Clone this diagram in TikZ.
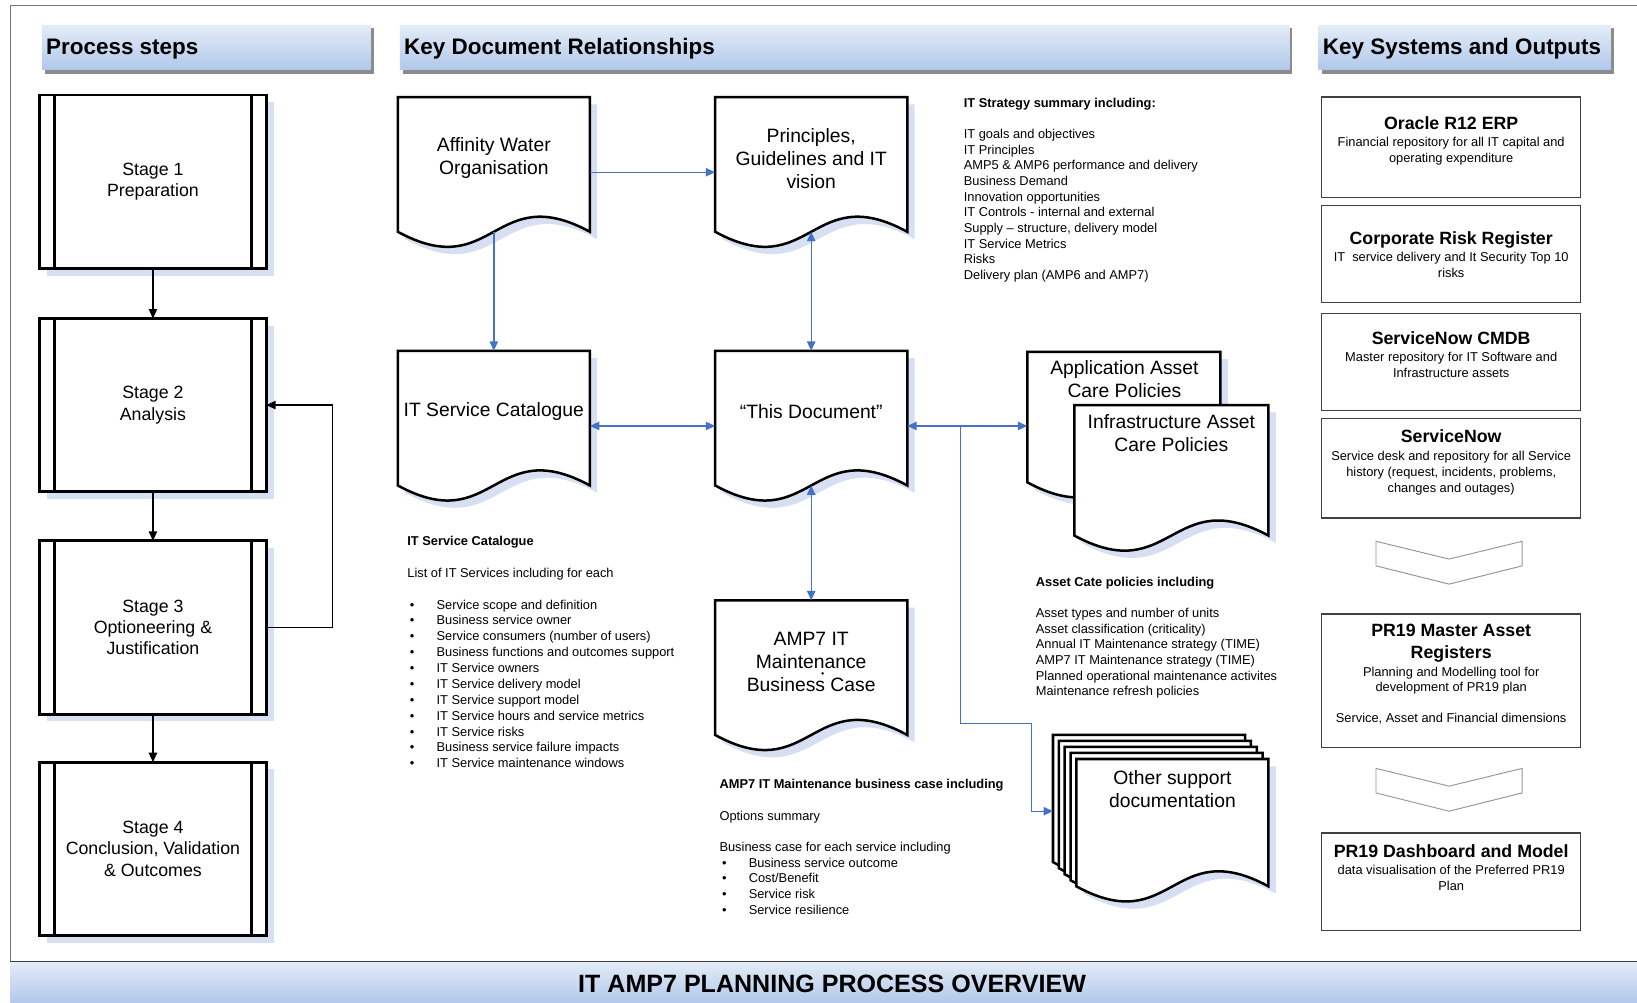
\documentclass[tikz,border=0pt]{standalone}
\usepackage{fontspec}
\setmainfont{Liberation Sans}
\usetikzlibrary{arrows.meta,calc}

\definecolor{linkblue}{RGB}{68,114,196}
\definecolor{shadowblue}{RGB}{214,224,242}
\definecolor{hdrtop}{RGB}{228,236,247}
\definecolor{hdrbot}{RGB}{176,200,234}
\definecolor{framegray}{RGB}{120,120,120}
\definecolor{boxgray}{RGB}{64,64,64}
\definecolor{chevgray}{RGB}{150,150,150}
\definecolor{hdrshadow}{RGB}{140,140,140}

\tikzset{
  stagebox/.style={draw=black, line width=2.8pt, fill=white, minimum width=217pt,
    minimum height=166pt, inner sep=0pt, outer sep=0pt, align=center,
    font=\fontsize{17}{20.5}\selectfont},
  docbox/.style={inner sep=0pt, outer sep=0pt, draw=none},
  docline/.style={draw=black, line width=2.4pt, fill=white, line join=miter},
  docshade/.style={fill=shadowblue, draw=none},
  doctext/.style={align=center, font=\fontsize{18.5}{22}\selectfont, inner sep=0pt},
  flow/.style={draw=black, line width=1.2pt, -{Triangle[length=9pt,width=8pt]}},
  link/.style={draw=linkblue, line width=1.3pt, -{Triangle[length=9pt,width=8pt]}},
  linkboth/.style={draw=linkblue, line width=1.3pt,
    {Triangle[length=9pt,width=8pt]}-{Triangle[length=9pt,width=8pt]}},
  header/.style={top color=hdrtop, bottom color=hdrbot, draw=none, minimum height=43pt,
    inner sep=0pt, outer sep=0pt},
  hdrtext/.style={font=\bfseries\fontsize{21.5}{24}\selectfont, anchor=base west, inner sep=0pt},
  sysbox/.style={draw=boxgray, line width=1.3pt, fill=white, minimum width=248pt,
    inner sep=0pt, outer sep=0pt},
  systitle/.style={font=\bfseries\fontsize{17}{21}\selectfont, align=center, inner sep=0pt},
  syssub/.style={font=\fontsize{12.3}{15}\selectfont, align=center, anchor=north, inner sep=0pt},
  listtext/.style={font=\fontsize{12.3}{15}\selectfont, align=left, anchor=north west, inner sep=0pt},
  chevron/.style={draw=chevgray, line width=0.9pt, fill=white, line join=miter},
}

% geometry holder for a document shape: name, left, top, width, side height
\newcommand\docnode[5]{\node[docbox, minimum width=#4pt, minimum height=#5pt, anchor=north west] (#1) at (#2,#3) {};}
% outline of a document shape with a wavy bottom: style, name, dx, dy
\newcommand\docpath[4]{\path[#1] ([shift={(#3,#4)}]#2.north west) -- ([shift={(#3,#4)}]#2.south west)
  .. controls ([shift={(#3,#4+50)}]#2.south) and ([shift={(#3,#4-50)}]#2.south) ..
  ([shift={(#3,#4)}]#2.south east) -- ([shift={(#3,#4)}]#2.north east) -- cycle;}
\newcommand\docshape[5]{\docnode{#1}{#2}{#3}{#4}{#5}\docpath{docshade}{#1}{7}{7}\docpath{docline}{#1}{0}{0}}
% predefined-process box for the stages: name, centre y, text
\newcommand\stagenode[3]{%
  \fill[shadowblue] (45,#2-83+7) rectangle (262,#2+83+7);
  \node[stagebox] (#1) at (146.5,#2) {#3};
  \draw[line width=2.8pt] ([xshift=14pt]#1.north west) -- ([xshift=14pt]#1.south west);
  \draw[line width=2.8pt] ([xshift=-14pt]#1.north east) -- ([xshift=-14pt]#1.south east);}
% downward chevron between the systems boxes: top y
\newcommand\chevronshape[1]{\draw[chevron] (1318,#1) -- (1388,#1+17) -- (1458,#1) -- (1458,#1+23.5)
  -- (1388,#1+41) -- (1318,#1+23.5) -- cycle;}
\newcommand\listbullet{\makebox[28pt][l]{\hspace{2.5pt}\textbullet}}

\begin{document}
\begin{tikzpicture}[x=1pt,y=-1pt]
\useasboundingbox (0,0) rectangle (1568,960);
\fill[white] (0,0) rectangle (1568,960);

% ---------- footer band and outer frame ----------
\node[header, minimum width=1570pt, minimum height=40pt, anchor=north west] (footer) at (10,921) {};
\draw[framegray, line width=1pt] (footer.north west) -- (10,5) -- (1580,5);
\draw[black!75, line width=1.8pt] (footer.north west) -- (footer.north east);
\node[font=\bfseries\fontsize{24}{28}\selectfont, anchor=base, inner sep=0pt] (footertitle)
  at (797,950.6) {IT AMP7 PLANNING PROCESS OVERVIEW};

% ---------- column headers ----------
\fill[hdrshadow] (43,27) rectangle (358,71);
\node[header, minimum width=315pt, anchor=north west] (hproc) at (40,24) {};
\node[hdrtext] (hproctxt) at (44,52) {Process steps};
\fill[hdrshadow] (386,27) rectangle (1238,71);
\node[header, minimum width=852pt, anchor=north west] (hdoc) at (383,24) {};
\node[hdrtext] (hdoctxt) at (387,52) {Key Document Relationships};
\fill[hdrshadow] (1266,27) rectangle (1546,71);
\node[header, minimum width=280pt, anchor=north west] (hsys) at (1263,24) {};
\node[hdrtext] (hsystxt) at (1267,52) {Key Systems and Outputs};

% ---------- process steps ----------
\stagenode{s1}{174}{Stage 1\\Preparation}
\stagenode{s2}{388}{Stage 2\\Analysis}
\stagenode{s3}{601}{Stage 3\\Optioneering \&\\Justification}
\stagenode{s4}{813}{Stage 4\\Conclusion, Validation\\\& Outcomes}
\draw[flow] (s1.south) -- (s2.north);
\draw[flow] (s2.south) -- (s3.north);
\draw[flow] (s3.south) -- (s4.north);
\draw[flow] (s3.east) -- ++(63.5,0) |- (s2.east);

% ---------- key documents ----------
\docshape{aff}{381}{93}{184}{129}
\docshape{prin}{685}{93}{184}{129}
\docshape{itcat}{381}{336}{184}{129}
\docshape{thisdoc}{685}{336}{184}{129}
\docshape{amp}{685}{575}{184}{129}
\docshape{appacp}{984}{337}{185}{125}
\docshape{infacp}{1029}{388}{186}{125}

% stack of support documents, back pages first
\docnode{osd4}{1031-22.4}{727-23.2}{184}{122}
\docnode{osd3}{1031-16.8}{727-17.4}{184}{122}
\docnode{osd2}{1031-11.2}{727-11.6}{184}{122}
\docnode{osd1}{1031-5.6}{727-5.8}{184}{122}
\docnode{osd}{1031}{727}{184}{122}
\docpath{docshade}{osd}{7}{7}
\docpath{docline}{osd4}{0}{0}
\docpath{docline}{osd3}{0}{0}
\docpath{docline}{osd2}{0}{0}
\docpath{docline}{osd1}{0}{0}
\docpath{docline}{osd}{0}{0}

\node[doctext] (afftxt) at (473,151) {Affinity Water\\Organisation};
\node[doctext] (printxt) at (777,152) {Principles,\\Guidelines and IT\\vision};
\node[doctext] (itcattxt) at (473,394) {IT Service Catalogue};
\node[doctext] (thisdoctxt) at (777,394) {“This Document”};
\node[doctext] (amptxt) at (777,634) {AMP7 IT\\Maintenance\\Business Case};
\fill (788,645) circle (1.3);
\node[doctext] (apptxt) at (1077,363) {Application Asset\\Care Policies};
\node[doctext] (inftxt) at (1122,415) {Infrastructure Asset\\Care Policies};
\node[doctext] (osdtxt) at (1123,756) {Other support\\documentation};

% ---------- document relationships ----------
\draw[link] ([yshift=-7.5pt]aff.east) -- ([yshift=-7.5pt]prin.west);
\draw[link] (aff.south) -- (itcat.north);
\draw[linkboth] (prin.south) -- (thisdoc.north);
\draw[linkboth] ([yshift=-7.5pt]itcat.east) -- ([yshift=-7.5pt]thisdoc.west);
\draw[linkboth] (thisdoc.south) -- (amp.north);
\coordinate (jn) at ([yshift=-7.5pt]thisdoc.east);
\draw[linkboth] (jn) -- (jn -| appacp.west);
\coordinate (tee) at (920,408);
\coordinate (osdbend) at (988,693);
\coordinate (osdin) at (988,777);
\draw[link] (tee) |- (osdbend) -- (osdin) -- (osdin -| osd4.west);

% ---------- summaries ----------
\node[listtext] (strategy) at (923,93.5) {\textbf{IT Strategy summary including:}\\[15pt]
IT goals and objectives\\IT Principles\\AMP5 \& AMP6 performance and delivery\\Business Demand\\
Innovation opportunities\\IT Controls - internal and external\\Supply – structure, delivery model\\
IT Service Metrics\\Risks\\Delivery plan (AMP6 and AMP7)};

\node[listtext, font=\fontsize{12.3}{15.2}\selectfont] (catlist) at (390,513.5)
{\textbf{IT Service Catalogue}\\[15.2pt]List of IT Services including for each\\[15.2pt]
\listbullet Service scope and definition\\\listbullet Business service owner\\
\listbullet Service consumers (number of users)\\\listbullet Business functions and outcomes support\\
\listbullet IT Service owners\\\listbullet IT Service delivery model\\\listbullet IT Service support model\\
\listbullet IT Service hours and service metrics\\\listbullet IT Service risks\\
\listbullet Business service failure impacts\\\listbullet IT Service maintenance windows};

\node[listtext] (acplist) at (992,552.5) {\textbf{Asset Cate policies including}\\[15pt]
Asset types and number of units\\Asset classification (criticality)\\
Annual IT Maintenance strategy (TIME)\\AMP7 IT Maintenance strategy (TIME)\\
Planned operational maintenance activites\\Maintenance refresh policies};

\node[listtext] (amplist) at (689,746.5) {\textbf{AMP7 IT Maintenance business case including}\\[15pt]
Options summary\\[15pt]Business case for each service including\\
\listbullet Business service outcome\\\listbullet Cost/Benefit\\\listbullet Service risk\\
\listbullet Service resilience};

% ---------- key systems and outputs ----------
\node[sysbox, minimum height=96pt, anchor=north west] (oracle) at (1266,93) {};
\node[systitle, anchor=base] (oracletitle) at (1390,124) {Oracle R12 ERP};
\node[syssub] (oraclesub) at (1390,131.4) {Financial repository for all IT capital and\\operating expenditure};

\node[sysbox, minimum height=93pt, anchor=north west] (risk) at (1266,197) {};
\node[systitle, anchor=base] (risktitle) at (1390,234) {Corporate Risk Register};
\node[syssub] (risksub) at (1390,241.4) {IT\ \ service delivery and It Security Top 10\\risks};

\node[sysbox, minimum height=93pt, anchor=north west] (cmdb) at (1266,300) {};
\node[systitle, anchor=base] (cmdbtitle) at (1390,330) {ServiceNow CMDB};
\node[syssub] (cmdbsub) at (1390,337.4) {Master repository for IT Software and\\Infrastructure assets};

\node[sysbox, minimum height=95pt, anchor=north west] (snow) at (1266,401) {};
\node[systitle, anchor=base] (snowtitle) at (1390,424) {ServiceNow};
\node[syssub] (snowsub) at (1390,432.4) {Service desk and repository for all Service\\history (request, incidents, problems,\\changes and outages)};

\chevronshape{518.5}

\node[sysbox, minimum height=128pt, anchor=north west] (mar) at (1266,588) {};
\node[systitle, anchor=north] (martitle) at (1390,597.7) {PR19 Master Asset\\Registers};
\node[syssub] (marsub) at (1390,638.4) {Planning and Modelling tool for\\development of PR19 plan\\[15pt]Service, Asset and Financial dimensions};

\chevronshape{736}

\node[sysbox, minimum height=93pt, anchor=north west] (dash) at (1266,798) {};
\node[systitle, anchor=base] (dashtitle) at (1390,821) {PR19 Dashboard and Model};
\node[syssub] (dashsub) at (1390,828.4) {data visualisation of the Preferred PR19\\Plan};

\end{tikzpicture}
\end{document}
